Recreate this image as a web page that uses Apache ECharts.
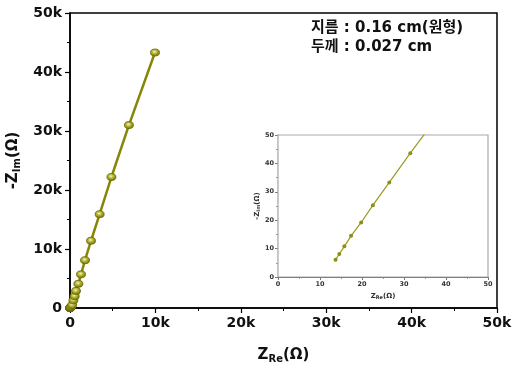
<!DOCTYPE html>
<html><head><meta charset="utf-8">
<script src="https://cdn.jsdelivr.net/npm/echarts@6/dist/echarts.min.js"></script>
<style>html,body{margin:0;padding:0;background:#fff}#c{width:514px;height:366px}</style>
</head><body><div id="c"></div>
<script>
// Impedance data (Ohm)
const zRe = [13.7,14.6,15.8,17.4,19.8,22.6,26.5,31.5,120,250,400,550,700,980,1290,1760,2460,3470,4850,6900,9950];
const zIm = [6.1,8.1,10.8,14.5,19.2,25.3,33.3,43.6,220,500,1300,2000,2900,4100,5700,8100,11400,15900,22200,31000,43300];
const mainTicks = [0,10000,20000,30000,40000,50000];
const insetTicks = [0,10,20,30,40,50];
const noteLines = ['지름 : 0.16 cm(원형)','두께 : 0.027 cm'];

const pts = zRe.map((x,i)=>[x, zIm[i]]);
const FF = '"DejaVu Sans","Noto Sans CJK KR",sans-serif';
const kfmt = v => v === 0 ? '0' : (v/1000) + 'k';
const lineCol = '#868608';

const chart = echarts.init(document.getElementById('c'));
function mainAxis(isX){
  return {
    type:'value', gridIndex:0, min:mainTicks[0], max:mainTicks[mainTicks.length-1], interval:10000,
    name: isX ? '{b|Z}{s|Re}{b|(Ω)}' : '{b|-Z}{s|Im}{b|(Ω)}',
    nameLocation:'middle', nameGap: isX ? 38 : 46, nameRotate: isX ? 0 : 90,
    nameTextStyle:{rich:{
      b:{fontFamily:FF,fontWeight:'bold',fontSize:15,color:'#111'},
      s:{fontFamily:FF,fontWeight:'bold',fontSize:10,color:'#111',padding:[8,0,0,0]}
    }},
    axisLine:{show:true,onZero:false,lineStyle:{color:'#000',width:1.5}},
    axisTick:{show:true,inside:false,length:5,lineStyle:{color:'#000',width:1.2}},
    minorTick:{show:true,splitNumber:2,length:3,lineStyle:{color:'#000',width:1}},
    splitLine:{show:false},
    axisLabel:{fontFamily:FF,fontWeight:'bold',fontSize:14,color:'#111',margin:8,formatter:kfmt}
  };
}
function insetAxis(isX){
  return {
    type:'value', gridIndex:1, min:insetTicks[0], max:insetTicks[insetTicks.length-1], interval:10,
    name: isX ? '{b|Z}{s|Re}{b|(Ω)}' : '{b|-Z}{s|Im}{b|(Ω)}',
    nameLocation:'middle', nameGap: isX ? 15 : 16, nameRotate: isX ? 0 : 90,
    nameTextStyle:{rich:{
      b:{fontFamily:FF,fontWeight:'bold',fontSize:7,color:'#333'},
      s:{fontFamily:FF,fontWeight:'bold',fontSize:5,color:'#333',padding:[3,0,0,0]}
    }},
    axisLine:{show:true,onZero:false,lineStyle:{color:'#555',width:1.2}},
    axisTick:{show:true,inside:false,length:3,lineStyle:{color:'#555',width:0.8}},
    minorTick:{show:true,splitNumber:2,length:2,lineStyle:{color:'#555',width:0.6}},
    splitLine:{show:false},
    axisLabel:{fontFamily:FF,fontWeight:'bold',fontSize:6.5,color:'#333',margin:4}
  };
}

chart.setOption({
  animation:false,
  backgroundColor:'#fff',
  grid:[
    {left:70,top:13,right:17,bottom:58,containLabel:false,outerBoundsMode:'none',show:true,borderColor:'#000',borderWidth:1.5,backgroundColor:'transparent'},
    {left:278,top:135,width:210,height:142,containLabel:false,outerBoundsMode:'none',show:true,borderColor:'#aaa',borderWidth:1.2,backgroundColor:'#fff',z:5}
  ],
  xAxis:[mainAxis(true), insetAxis(true)],
  yAxis:[mainAxis(false), insetAxis(false)],
  series:[
    {type:'line',xAxisIndex:0,yAxisIndex:0,data:pts,symbol:'circle',symbolSize:[9,7],
     lineStyle:{color:lineCol,width:2.5},
     itemStyle:{color:{type:'radial',x:0.45,y:0.4,r:0.6,colorStops:[{offset:0,color:'#f4f4c8'},{offset:0.45,color:'#b0b030'},{offset:1,color:'#6e6e00'}]},borderColor:'#6a6a00',borderWidth:0.8},
     z:3},
    {type:'line',xAxisIndex:1,yAxisIndex:1,data:pts,symbol:'circle',symbolSize:4,clip:true,
     lineStyle:{color:'#9a9a20',width:1.2},
     itemStyle:{color:'#8e8e10',borderColor:'#8e8e10',borderWidth:0},
     z:6}
  ],
  graphic:[
    {type:'text',left:311,top:21,z:10,style:{text:noteLines[0],font:'bold 15px '+FF,fill:'#111'}},
    {type:'text',left:311,top:40,z:10,style:{text:noteLines[1],font:'bold 15px '+FF,fill:'#111'}}
  ]
});
</script></body></html>
